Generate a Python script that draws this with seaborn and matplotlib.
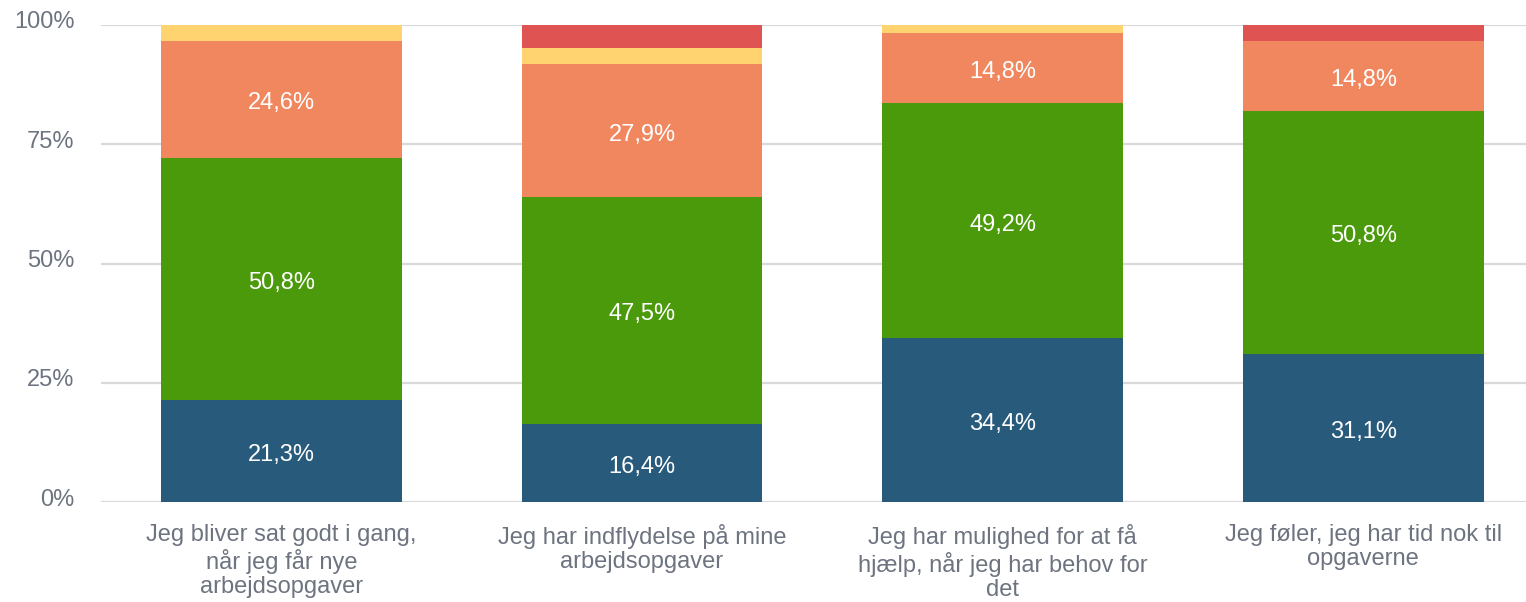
import numpy as np
import pandas as pd
import seaborn as sns
import matplotlib.pyplot as plt
import matplotlib.transforms as mtransforms

# data
categories = [
    "Jeg bliver sat godt i gang,\nnår jeg får nye\narbejdsopgaver",
    "Jeg har indflydelse på mine\narbejdsopgaver",
    "Jeg har mulighed for at få\nhjælp, når jeg har behov for\ndet",
    "Jeg føler, jeg har tid nok til\nopgaverne",
]
blue = [21.3, 16.4, 34.4, 31.1]
green = [50.8, 47.5, 49.2, 50.8]
orange = [24.6, 27.9, 14.8, 14.8]
yellow = [3.3, 3.3, 1.6, 0.0]
red = [0.0, 4.9, 0.0, 3.3]
yticks = [0, 25, 50, 75, 100]
ytick_labels = ["0%", "25%", "50%", "75%", "100%"]

series = [blue, green, orange, yellow, red]
colors = ["#275a7b", "#4a9a0b", "#f0875f", "#fed370", "#e05353"]
show_label = [True, True, True, False, False]

sns.set_theme(style="white")
plt.rcParams["font.family"] = ["Liberation Sans", "DejaVu Sans"]

fig = plt.figure(figsize=(15.26, 6.02), dpi=100)
ax = fig.add_axes([101 / 1526, 1 - 502 / 602, 1 - 101 / 1526, (502 - 25) / 602])

# cumulative totals, draw tallest first so lower layers sit on top
cum = np.cumsum(np.array(series), axis=0)
for i in range(len(series) - 1, -1, -1):
    df = pd.DataFrame({"cat": categories, "val": cum[i]})
    sns.barplot(data=df, x="cat", y="val", color=colors[i], width=0.668,
                saturation=1, ax=ax, zorder=2, linewidth=0)

# value labels
shift = mtransforms.ScaledTranslation(0, -4 / 100, fig.dpi_scale_trans)
for i, vals in enumerate(series):
    if not show_label[i]:
        continue
    for j, v in enumerate(vals):
        mid = cum[i][j] - v / 2
        ax.text(j, mid, f"{v:.1f}%".replace(".", ","), ha="center", va="center",
                color="white", fontsize=17, zorder=3, transform=ax.transData + shift)

ax.set_ylim(0, 100)
ax.set_xlim(-0.5, 3.451)
ax.set_yticks(yticks)
ax.set_yticklabels(ytick_labels)
for y in yticks:
    ax.axhline(y, color="#d9d9d9", linewidth=1.6, zorder=1)
ax.set_xlabel("")
ax.set_ylabel("")
for s in ax.spines.values():
    s.set_visible(False)
ax.tick_params(axis="both", length=0, colors="#6d7480", labelsize=17)
ax.tick_params(axis="y", pad=19)
ax.tick_params(axis="x", pad=16)
for lbl in ax.get_yticklabels():
    lbl.set_transform(lbl.get_transform() + mtransforms.ScaledTranslation(0, 5 / 100, fig.dpi_scale_trans))
for lbl in ax.get_xticklabels():
    lbl.set_linespacing(1.12)

fig.savefig("out.png", dpi=100)
